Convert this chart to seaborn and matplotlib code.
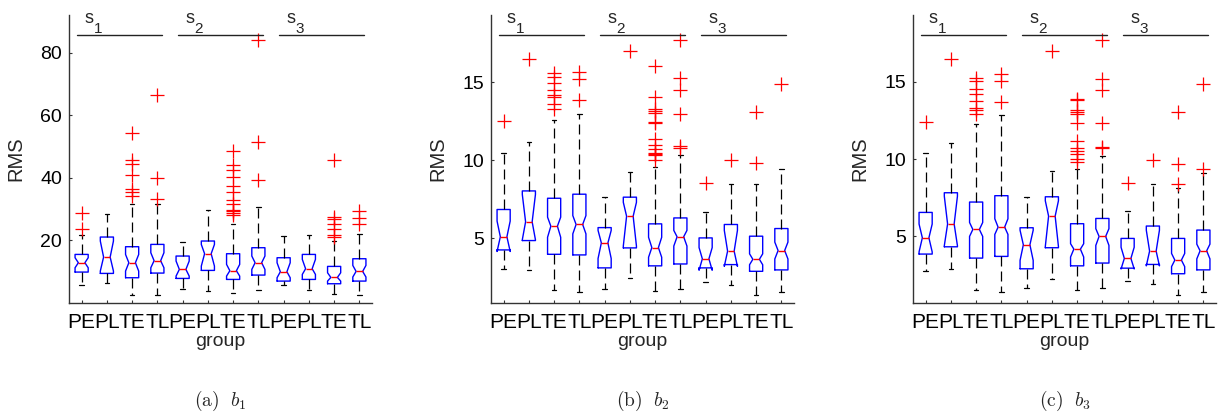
import matplotlib
matplotlib.use('Agg')
import matplotlib.pyplot as plt
import matplotlib.transforms as mtransforms
import seaborn as sns

groups = ['PE', 'PL', 'TE', 'TL'] * 3
sets = ['1', '2', '3']
captions = [r'$\mathrm{(a)}\ \ b_1$', r'$\mathrm{(b)}\ \ b_2$', r'$\mathrm{(c)}\ \ b_3$']

# ---- b1 ----
b1_q1 = [9.88, 9.45, 8.07, 9.56, 7.85, 10.41, 7.53, 8.92, 7.0, 7.53, 6.15, 7.0]
b1_med = [12.86, 14.67, 12.86, 13.5, 10.73, 15.74, 10.3, 12.86, 9.98, 10.94, 8.17, 10.09]
b1_q3 = [15.52, 21.07, 17.98, 18.72, 15.0, 19.8, 15.74, 17.66, 14.46, 15.52, 11.69, 14.14]
b1_lo = [5.83, 6.5, 2.42, 2.42, 4.4, 3.8, 3.06, 4.12, 5.6, 4.12, 2.74, 2.63]
b1_hi = [21.7, 28.3, 31.7, 31.7, 19.57, 29.7, 25.1, 30.76, 21.4, 21.6, 19.8, 22.1]
b1_cilo = [11.26, 10.2, 10.2, 11.26, 8.6, 11.8, 8.6, 10.73, 8.07, 9.13, 7.0, 8.3]
b1_cihi = [14.46, 19.8, 15.5, 16.06, 13.4, 18.7, 12.33, 15.0, 12.86, 13.93, 9.66, 12.0]
b1_fliers = [[23.7, 28.8], [], [54.3, 45.7, 44.3, 40.8, 36.3, 35.6, 34.2], [66.5, 40.0, 33.3],
             [], [], [48.5, 44.2, 42.4, 40.3, 37.5, 35.4, 33.0, 31.5, 29.8, 29.3, 28.8, 28.2],
             [83.9, 51.5, 39.2], [], [], [45.8, 27.6, 26.7, 25.3, 23.6, 21.7, 21.07], [29.4, 27.2, 25.1]]

# ---- b2 ----
b2_q1 = [4.25, 4.85, 3.97, 3.93, 3.1, 4.38, 3.23, 3.35, 3.1, 3.31, 2.88, 2.97]
b2_med = [5.09, 6.05, 5.77, 5.88, 4.7, 6.41, 4.40, 5.09, 3.68, 4.17, 3.65, 4.21]
b2_q3 = [6.84, 8.03, 7.56, 7.82, 5.68, 7.63, 5.92, 6.3, 5.02, 5.88, 5.13, 5.62]
b2_lo = [3.03, 2.97, 1.69, 1.58, 1.75, 2.44, 1.65, 1.75, 2.22, 2.03, 1.35, 1.58]
b2_hi = [10.47, 11.15, 12.6, 12.95, 7.63, 9.23, 9.59, 10.3, 6.69, 8.48, 8.48, 9.42]
b2_cilo = [4.15, 4.9, 5.06, 5.28, 3.7, 4.5, 3.78, 4.5, 2.95, 3.2, 3.3, 3.67]
b2_cihi = [6.1, 7.8, 6.35, 6.45, 5.5, 7.3, 5.06, 5.5, 4.4, 5.5, 4.0, 4.75]
b2_fliers = [[12.48], [16.5], [15.58, 15.36, 14.97, 14.5, 14.2, 14.05, 13.6, 13.27], [15.64, 15.21, 13.87],
             [], [16.99],
             [16.04, 14.02, 13.3, 13.15, 13.05, 12.46, 12.39, 11.35, 10.98, 10.7, 10.47, 10.37, 10.3, 10.02],
             [17.67, 15.26, 14.47, 12.97, 10.88, 10.79], [8.55], [9.98], [13.08, 9.81], [14.85]]

# ---- b3 ----
b3_q1 = [3.86, 4.33, 3.6, 3.71, 2.91, 4.27, 3.1, 3.28, 2.95, 3.19, 2.59, 2.84]
b3_med = [4.91, 5.8, 5.45, 5.6, 4.46, 6.31, 4.18, 5.0, 3.58, 4.05, 3.47, 4.07]
b3_q3 = [6.55, 7.82, 7.22, 7.63, 5.56, 7.56, 5.82, 6.16, 4.87, 5.67, 4.87, 5.41]
b3_lo = [2.74, 2.91, 1.51, 1.44, 1.66, 2.26, 1.55, 1.68, 2.09, 1.9, 1.19, 1.44]
b3_hi = [10.39, 11.03, 12.24, 12.84, 7.54, 9.2, 9.37, 10.19, 6.62, 8.41, 8.15, 9.12]
b3_cilo = [4.0, 4.4, 5.0, 5.13, 3.45, 4.35, 3.67, 4.42, 2.9, 3.1, 3.05, 3.55]
b3_cihi = [5.8, 7.6, 5.9, 6.14, 5.4, 7.3, 4.53, 5.5, 4.3, 5.4, 3.9, 4.5]
b3_fliers = [[12.39], [16.49], [15.24, 15.02, 14.55, 14.18, 13.75, 13.32, 13.19, 12.89], [15.52, 15.02, 13.69],
             [], [16.98],
             [13.9, 13.84, 13.19, 13.04, 12.93, 12.33, 11.16, 10.73, 10.52, 10.3, 10.02, 9.81],
             [17.67, 15.19, 14.44, 12.33, 10.78, 10.73], [8.47], [9.91], [13.04, 9.7, 8.41], [14.83, 9.37]]

panels = [
    (b1_q1, b1_med, b1_q3, b1_lo, b1_hi, b1_cilo, b1_cihi, b1_fliers),
    (b2_q1, b2_med, b2_q3, b2_lo, b2_hi, b2_cilo, b2_cihi, b2_fliers),
    (b3_q1, b3_med, b3_q3, b3_lo, b3_hi, b3_cilo, b3_cihi, b3_fliers),
]
ylims = [(0, 92), (0.85, 19.3), (0.7, 19.3)]
yticks = [[20, 40, 60, 80], [5, 10, 15], [5, 10, 15]]

sns.set_style('ticks')
plt.rcParams['font.family'] = ['Liberation Sans', 'DejaVu Sans']

W, H = 1218, 419
fig = plt.figure(figsize=(W / 100, H / 100), dpi=100)
lefts = [69, 491, 913]

for i, (q1, med, q3, lo, hi, cilo, cihi, fl) in enumerate(panels):
    ax = fig.add_axes([lefts[i] / W, 1 - 303 / H, 303 / W, 288 / H])
    stats = []
    for k in range(12):
        stats.append(dict(q1=q1[k], med=med[k], q3=q3[k], whislo=lo[k], whishi=hi[k],
                          cilo=cilo[k], cihi=cihi[k], fliers=fl[k]))
    ax.bxp(stats, positions=range(1, 13), widths=0.52, shownotches=True, capwidths=0.18,
           boxprops=dict(color='blue', linewidth=1.0),
           medianprops=dict(color='red', linewidth=1.0),
           whiskerprops=dict(color='black', linewidth=0.9, linestyle=(0, (8, 4))),
           capprops=dict(color='black', linewidth=0.9),
           flierprops=dict(marker='+', markeredgecolor='red', markersize=10,
                           markeredgewidth=0.9, linestyle='none'))

    ax.set_xlim(0.5, 12.5)
    ax.set_ylim(*ylims[i])
    ax.set_yticks(yticks[i])
    ax.set_xticks(range(1, 13))
    ax.set_xticklabels(groups)
    sns.despine(ax=ax)
    for sp in ['left', 'bottom']:
        ax.spines[sp].set_color('#333333')
        ax.spines[sp].set_linewidth(1.0)
    ax.tick_params(direction='in', length=2.5, width=0.8, colors='#333333',
                   labelcolor='black')
    ax.tick_params(axis='x', labelsize=15, pad=7)
    ax.tick_params(axis='y', labelsize=14, pad=5)

    ax.set_xlabel('group', fontsize=14, labelpad=1)
    ax.set_ylabel('RMS', fontsize=14.5)
    ax.yaxis.set_label_coords(-0.145, 0.5)

    trans = mtransforms.blended_transform_factory(ax.transData, ax.transAxes)
    for g in range(3):
        start = g * 4 + 1
        ax.plot([start - 0.18, start + 3 + 0.2], [0.93, 0.93], color='#222222',
                linewidth=1.0, transform=trans, clip_on=False)
        ax.text(start + 0.1, 0.971, 's', transform=trans, fontsize=13,
                ha='left', va='baseline')
        ax.text(start + 0.48, 0.936, sets[g], transform=trans, fontsize=11,
                ha='left', va='baseline')

    fig.text((lefts[i] + 151.5) / W, 1 - 401 / H, captions[i], math_fontfamily='cm',
             fontsize=14, ha='center', va='center')

fig.savefig('out.png', dpi=100)
